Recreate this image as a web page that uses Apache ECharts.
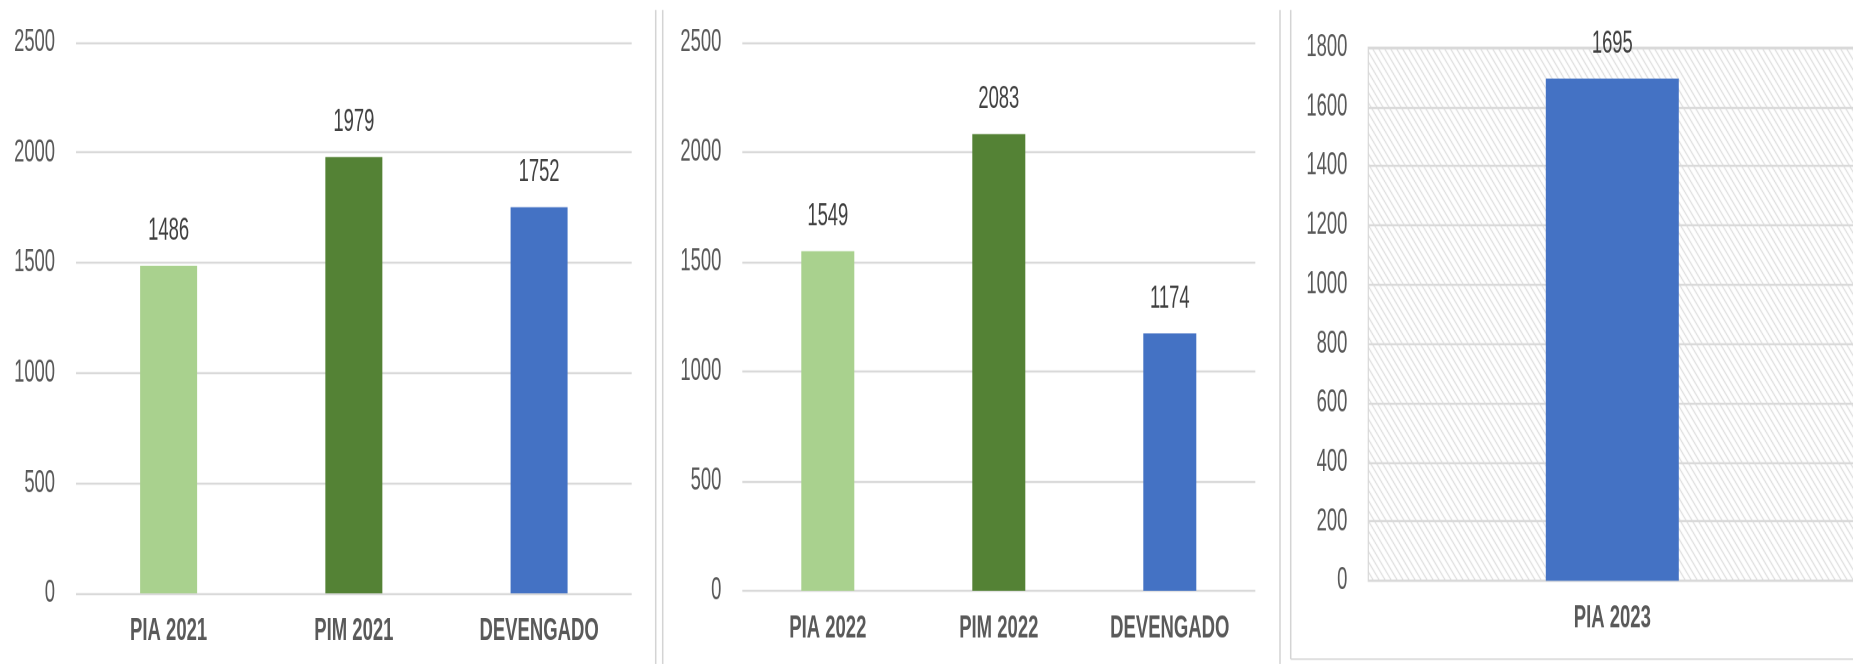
<!DOCTYPE html>
<html>
<head>
<meta charset="utf-8">
<title>PIA / PIM / Devengado</title>
<script src="https://cdn.jsdelivr.net/npm/echarts@6/dist/echarts.min.js"></script>
<style>
  html, body { margin: 0; padding: 0; background: #fff; overflow: hidden; }
  #stage { width: 1853px; height: 664px; overflow: hidden; }
  #chart { width: 1853px; transform-origin: 0 0; }
</style>
</head>
<body>
<div id="stage"><div id="chart"></div></div>
<script>
// data
const categories2021 = ['PIA 2021', 'PIM 2021', 'DEVENGADO']
const values2021 = [1486, 1979, 1752]

const categories2022 = ['PIA 2022', 'PIM 2022', 'DEVENGADO']
const values2022 = [1549, 2083, 1174]

const categories2023 = ['PIA 2023']
const values2023 = [1695]

const barColors = ['#A9D18E', '#548235', '#4472C4']
const blueColor = '#4472C4'

// the source screenshot is stretched vertically, so the chart is drawn
// flatter and scaled back up with css
const K = 1.7
const FONT = "'Liberation Sans', Arial, sans-serif"
const TEXT = '#595959'
const GRID_LINE = '#d9d9d9'

const el = document.getElementById('chart')
el.style.height = (664 / K) + 'px'
el.style.transform = 'scaleY(' + K + ')'

/** diagonal hatch used as the plot background of the last chart */
function makeHatch() {
  const size = 6
  const canvas = document.createElement('canvas')
  canvas.width = size
  canvas.height = size
  const ctx = canvas.getContext('2d')
  ctx.fillStyle = '#ffffff'
  ctx.fillRect(0, 0, size, size)
  ctx.strokeStyle = '#d2d2d2'
  ctx.lineWidth = 1
  ctx.beginPath()
  ctx.moveTo(-1, -1)
  ctx.lineTo(size + 1, size + 1)
  ctx.moveTo(-1, size - 1)
  ctx.lineTo(1, size + 1)
  ctx.moveTo(size - 1, -1)
  ctx.lineTo(size + 1, 1)
  ctx.stroke()
  return { image: canvas, repeat: 'repeat' }
}

function xAxisFor(gridIndex, data) {
  return {
    type: 'category',
    gridIndex,
    data,
    axisTick: { show: false },
    axisLine: { show: false },
    axisLabel: {
      interval: 0,
      margin: 13,
      color: TEXT,
      fontFamily: FONT,
      fontWeight: 'bold',
      fontSize: 18.5
    }
  }
}

function yAxisFor(gridIndex, max, interval) {
  return {
    type: 'value',
    gridIndex,
    min: 0,
    max,
    interval,
    axisLine: { show: false },
    axisTick: { show: false },
    splitLine: { lineStyle: { color: GRID_LINE, width: 1.2 } },
    axisLabel: {
      margin: 21,
      color: TEXT,
      fontFamily: FONT,
      fontSize: 18.4,
      formatter: (v) => String(v)
    }
  }
}

function barSeries(index, values, barWidth, colorOf) {
  return {
    type: 'bar',
    xAxisIndex: index,
    yAxisIndex: index,
    data: values,
    barWidth,
    itemStyle: { color: colorOf },
    label: {
      show: true,
      position: 'top',
      distance: 11.3,
      color: '#404040',
      fontFamily: FONT,
      fontSize: 18.4
    }
  }
}

const chart = echarts.init(el, null, { renderer: 'canvas', devicePixelRatio: 2 })

const sepStyle = { stroke: '#d4d4d4', lineWidth: 1.5 }
const sepH = { stroke: '#d4d4d4', lineWidth: 1.5 / K }

chart.setOption({
  backgroundColor: '#ffffff',
  animation: false,
  grid: [
    { left: 76, top: 42.3 / K, width: 555.7, height: 551 / K, outerBoundsMode: 'none' },
    { left: 742.3, top: 42.7 / K, width: 513, height: 548 / K, outerBoundsMode: 'none' },
    {
      left: 1368.3,
      top: 47.5 / K,
      width: 488,
      height: 533.2 / K,
      outerBoundsMode: 'none',
      show: true,
      backgroundColor: makeHatch(),
      borderColor: GRID_LINE,
      borderWidth: 1.2
    }
  ],
  xAxis: [
    xAxisFor(0, categories2021),
    xAxisFor(1, categories2022),
    xAxisFor(2, categories2023)
  ],
  yAxis: [
    yAxisFor(0, 2500, 500),
    yAxisFor(1, 2500, 500),
    yAxisFor(2, 1800, 200)
  ],
  series: [
    barSeries(0, values2021, 57, (p) => barColors[p.dataIndex]),
    barSeries(1, values2022, 53, (p) => barColors[p.dataIndex]),
    barSeries(2, values2023, 133, blueColor)
  ],
  // panel separators of the original screenshot
  graphic: [
    { type: 'line', silent: true, shape: { x1: 655.7, y1: 10 / K, x2: 655.7, y2: 664 / K }, style: sepStyle },
    { type: 'line', silent: true, shape: { x1: 662.7, y1: 10 / K, x2: 662.7, y2: 664 / K }, style: sepStyle },
    { type: 'line', silent: true, shape: { x1: 1280, y1: 10 / K, x2: 1280, y2: 664 / K }, style: sepStyle },
    { type: 'line', silent: true, shape: { x1: 1290.7, y1: 10 / K, x2: 1290.7, y2: 659 / K }, style: sepStyle },
    { type: 'line', silent: true, shape: { x1: 1290.7, y1: 659 / K, x2: 1853, y2: 659 / K }, style: sepH }
  ]
})
</script>
</body>
</html>
